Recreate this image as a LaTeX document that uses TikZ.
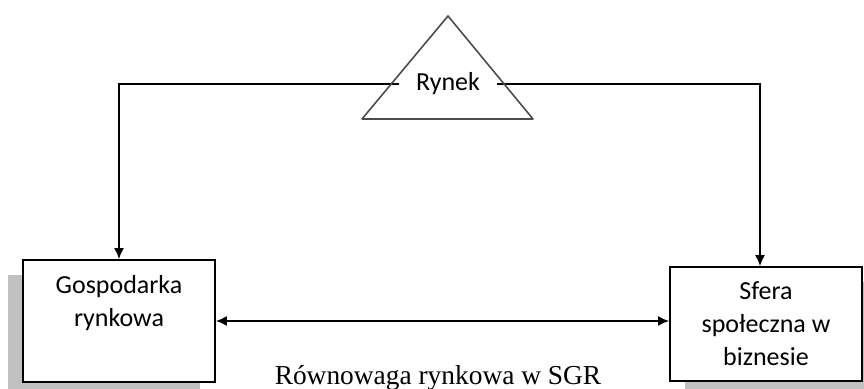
\documentclass[tikz,border=0pt]{standalone}
\usepackage{fontspec}
\setmainfont{Carlito}
\newfontfamily\capfont{Liberation Serif}
\usetikzlibrary{arrows.meta,shadows}
\definecolor{mygray}{RGB}{192,192,192}
\newcommand{\boxtext}[2]{\parbox[c][#1][t]{96pt}{\centering\vspace*{7.5pt}#2}}

\begin{document}
\begin{tikzpicture}[x=0.5pt,y=-0.5pt,inner sep=0pt]
\tikzstyle{main}=[rectangle, draw=black, line width=0.9pt, fill=white, font=\fontsize{13}{16.5}\selectfont]
\tikzstyle{connect}=[-{Latex[length=5.5pt,width=5pt]}, line width=0.8pt]
\tikzstyle{both}=[{Latex[length=5.5pt,width=5pt]}-{Latex[length=5.5pt,width=5pt]}, line width=0.8pt]
\tikzstyle{tri}=[draw=black!70, line width=0.8pt, line join=round]
\useasboundingbox (0,0) rectangle (864,389);
\node[main, drop shadow={shadow xshift=-7.5pt, shadow yshift=-7.5pt, fill=mygray, opacity=1}] (gr) at (119,321) {\boxtext{61pt}{Gospodarka\\rynkowa}};
\node[main, drop shadow={shadow xshift=7.5pt, shadow yshift=-7.5pt, fill=mygray, opacity=1}] (sf) at (766,324) {\boxtext{57pt}{Sfera\\społeczna w\\biznesie}};
\node[fill=white, inner xsep=8.3pt, inner ysep=0.5pt, font=\fontsize{13}{16}\selectfont] (ry) at (448,84) {Rynek};
\draw[connect] (ry.west) -| (gr.north);
\draw[connect] (ry.east) -| ([xshift=-3pt]sf.north);
\draw[both] (gr.east) -- (gr.east -| sf.west);
\draw[tri] (448,16) -- (362,119) -- (533,119) -- cycle;
\node[anchor=base, font=\capfont\fontsize{13.7}{16}\selectfont] (cap) at (438,385) {Równowaga rynkowa w SGR};
\end{tikzpicture}
\end{document}
